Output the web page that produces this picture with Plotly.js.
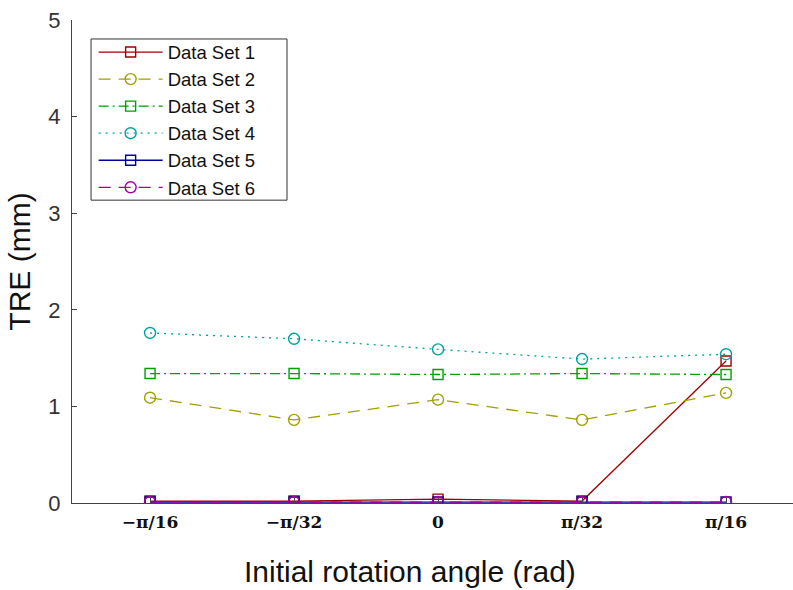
<!DOCTYPE html>
<html>
<head>
<meta charset="utf-8">
<script src="https://cdn.plot.ly/plotly-3.0.1.min.js"></script>
<style>
  html, body { margin: 0; padding: 0; background: #fff; }
  #chart { width: 793px; height: 590px; }
</style>
</head>
<body>
<div id="chart"></div>
<script>
// Initial rotation angles (category labels on the x axis)
const angleLabels = ['\u2212\u03c0/16', '\u2212\u03c0/32', '0', '\u03c0/32', '\u03c0/16'];

// TRE (mm) per data set
const set1 = [0.02, 0.02, 0.04, 0.02, 1.47];
const set2 = [1.09, 0.86, 1.07, 0.86, 1.14];
const set3 = [1.34, 1.34, 1.33, 1.34, 1.33];
const set4 = [1.76, 1.70, 1.59, 1.49, 1.54];
const set5 = [0.01, 0.01, 0.01, 0.01, 0.01];
const set6 = [0.01, 0.01, 0.01, 0.01, 0.01];

const seriesNames = ['Data Set 1', 'Data Set 2', 'Data Set 3', 'Data Set 4', 'Data Set 5', 'Data Set 6'];
const seriesValues = [set1, set2, set3, set4, set5, set6];
const seriesColors = ['#a00000', '#a0a000', '#00a000', '#00a0a0', '#0000a0', '#a000a0'];
const seriesDash = ['solid', '12px,8px', '10px,4px,2px,4px', '2px,5px', 'solid', '12px,8px'];
const seriesSymbols = ['square-open', 'circle-open', 'square-open', 'circle-open', 'square-open', 'circle-open'];

const traces = seriesNames.map((name, i) => ({
  type: 'scatter',
  mode: 'lines+markers',
  name: name,
  x: angleLabels,
  y: seriesValues[i],
  line: { color: seriesColors[i], width: 1.3, dash: seriesDash[i] },
  marker: {
    symbol: seriesSymbols[i],
    size: seriesSymbols[i].startsWith('circle') ? 11 : 10,
    color: seriesColors[i],
    line: { color: seriesColors[i], width: 1.4 }
  }
}));

const layout = {
  width: 793,
  height: 590,
  margin: { l: 72, r: 0, t: 20, b: 87 },
  paper_bgcolor: '#ffffff',
  plot_bgcolor: '#ffffff',
  showlegend: true,
  font: { family: 'Liberation Sans, Arial, sans-serif', color: '#262626' },
  xaxis: {
    type: 'category',
    range: [-0.542, 4.465],
    showgrid: false,
    zeroline: false,
    showline: true,
    linecolor: '#444',
    linewidth: 1,
    ticks: 'inside',
    ticklen: 5,
    tickcolor: '#444',
    ticklabelstandoff: 4,
    tickfont: { family: 'DejaVu Serif, Liberation Serif, serif', size: 17, color: '#111', weight: 'bold' }
  },
  yaxis: {
    range: [0, 5],
    tickvals: [0, 1, 2, 3, 4, 5],
    showgrid: false,
    zeroline: false,
    showline: true,
    linecolor: '#444',
    linewidth: 1,
    ticks: 'inside',
    ticklen: 5,
    tickcolor: '#444',
    ticklabelstandoff: 6,
    tickfont: { family: 'Liberation Sans, Arial, sans-serif', size: 22, color: '#333' },
    title: {
      text: 'TRE (mm)',
      font: { family: 'Liberation Sans, Arial, sans-serif', size: 30, color: '#111' },
      standoff: 8
    }
  },
  // x-axis label, centred slightly left of the plot centre
  annotations: [{
    text: 'Initial rotation angle (rad)',
    xref: 'paper', yref: 'paper',
    x: 0.469, y: -0.141,
    xanchor: 'center', yanchor: 'middle',
    showarrow: false,
    font: { family: 'Liberation Sans, Arial, sans-serif', size: 30, color: '#111' }
  }],
  // framed white panel behind the legend entries
  shapes: [{
    type: 'rect',
    xref: 'paper', yref: 'paper',
    x0: 0.0264, x1: 0.2982, y0: 0.627, y1: 0.9607,
    layer: 'above',
    fillcolor: '#ffffff',
    line: { color: '#333', width: 1 }
  }],
  legend: {
    x: 0.03,
    y: 0.972,
    xanchor: 'left',
    yanchor: 'top',
    bgcolor: 'rgba(0,0,0,0)',
    borderwidth: 0,
    itemwidth: 64,
    tracegroupgap: 0,
    font: { family: 'Liberation Sans, Arial, sans-serif', size: 18.5, color: '#111' }
  }
};

Plotly.newPlot('chart', traces, layout, { displayModeBar: false, staticPlot: true });
</script>
</body>
</html>
